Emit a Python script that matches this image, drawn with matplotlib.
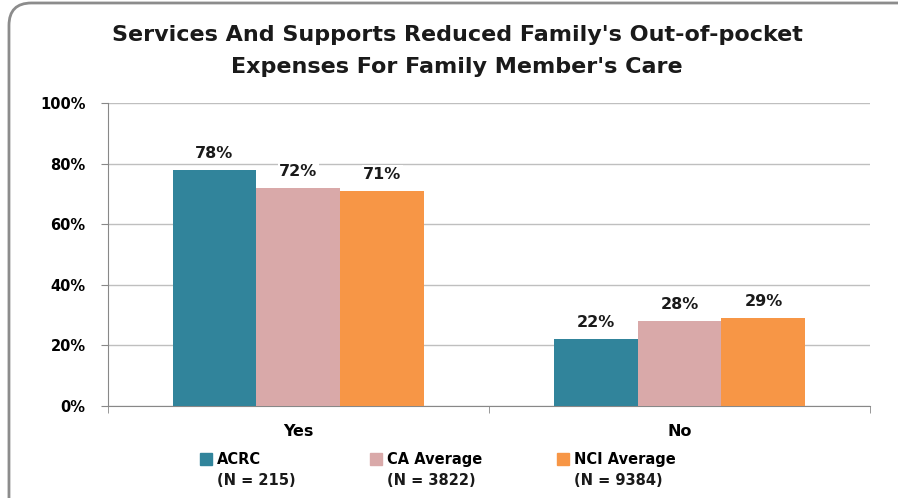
import matplotlib.pyplot as plt
import numpy as np
from matplotlib.patches import FancyBboxPatch, Patch

categories = ["Yes", "No"]
series = ["ACRC", "CA Average", "NCI Average"]
series_n = ["(N = 215)", "(N = 3822)", "(N = 9384)"]
acrc = [78, 22]
ca_avg = [72, 28]
nci_avg = [71, 29]
colors = ["#31849B", "#D9A9A9", "#F79646"]

plt.rcParams['font.family'] = ['DejaVu Sans']

fig = plt.figure(figsize=(8.98, 4.98), dpi=100)
fig.patches.append(FancyBboxPatch((0.010, -0.05), 1.05, 1.044,
                                  boxstyle="round,pad=0,rounding_size=0.025",
                                  mutation_aspect=898 / 498,
                                  transform=fig.transFigure, fc="white",
                                  ec="#8c8c8c", lw=2, zorder=-10))

ax = fig.add_axes([0.120, 0.185, 0.849, 0.608])
x = np.arange(len(categories))
w = 0.22
for i, (vals, c) in enumerate(zip([acrc, ca_avg, nci_avg], colors)):
    b = ax.bar(x + (i - 1) * w, vals, w, color=c, label=series[i], zorder=3)
    for rect, v in zip(b, vals):
        ax.text(rect.get_x() + rect.get_width() / 2, v + 3, f"{v}%",
                ha="center", va="bottom", fontsize=11.5, fontweight="bold",
                color="#1a1a1a", zorder=4,
                bbox=dict(fc="white", ec="none", pad=1))

ax.set_xlim(-0.5, 1.5)
ax.set_ylim(0, 100)
ax.set_yticks(range(0, 101, 20))
ax.set_yticklabels([f"{t}%" for t in range(0, 101, 20)], fontsize=10.5,
                   fontweight="bold")
ax.set_xticks(x)
ax.set_xticklabels(categories, fontsize=11.5, fontweight="bold")
ax.set_xticks([-0.5, 0.5, 1.5], minor=True)
ax.tick_params(axis="x", which="major", length=0, pad=13)
ax.tick_params(axis="x", which="minor", length=5, color="#888888")
ax.tick_params(axis="y", length=5, color="#888888", pad=11)
ax.grid(axis="y", color="#bfbfbf", lw=1, zorder=0)
for s in ["top", "right"]:
    ax.spines[s].set_visible(False)
for s in ["left", "bottom"]:
    ax.spines[s].set_color("#888888")

fig.text(0.509, 0.898, "Services And Supports Reduced Family's Out-of-pocket\nExpenses For Family Member's Care",
         ha="center", va="center", fontsize=16, fontweight="bold",
         linespacing=1.72, color="#1a1a1a")

# one legend entry per series, spaced like the original
leg_x = [200 / 898, 370 / 898, 557 / 898]
for lx, name, n, c in zip(leg_x, series, series_n, colors):
    leg = fig.legend(handles=[Patch(color=c, label=name)],
                     loc="upper left", bbox_to_anchor=(lx, 1 - 452 / 498),
                     frameon=False, borderpad=0, borderaxespad=0,
                     handlelength=0.8, handleheight=0.8, handletextpad=0.35,
                     prop=dict(size=10.5, weight="bold"))

fig.canvas.draw()
inv = fig.transFigure.inverted()
for lg, n in zip(fig.legends, series_n):
    bb = lg.get_texts()[0].get_window_extent()
    fx, fy = inv.transform((bb.x0, bb.y0 - 21))
    fig.text(fx, fy, n, ha="left", va="bottom", fontsize=10.5,
             fontweight="bold", color="#1a1a1a")

fig.savefig("out.png", dpi=100)
